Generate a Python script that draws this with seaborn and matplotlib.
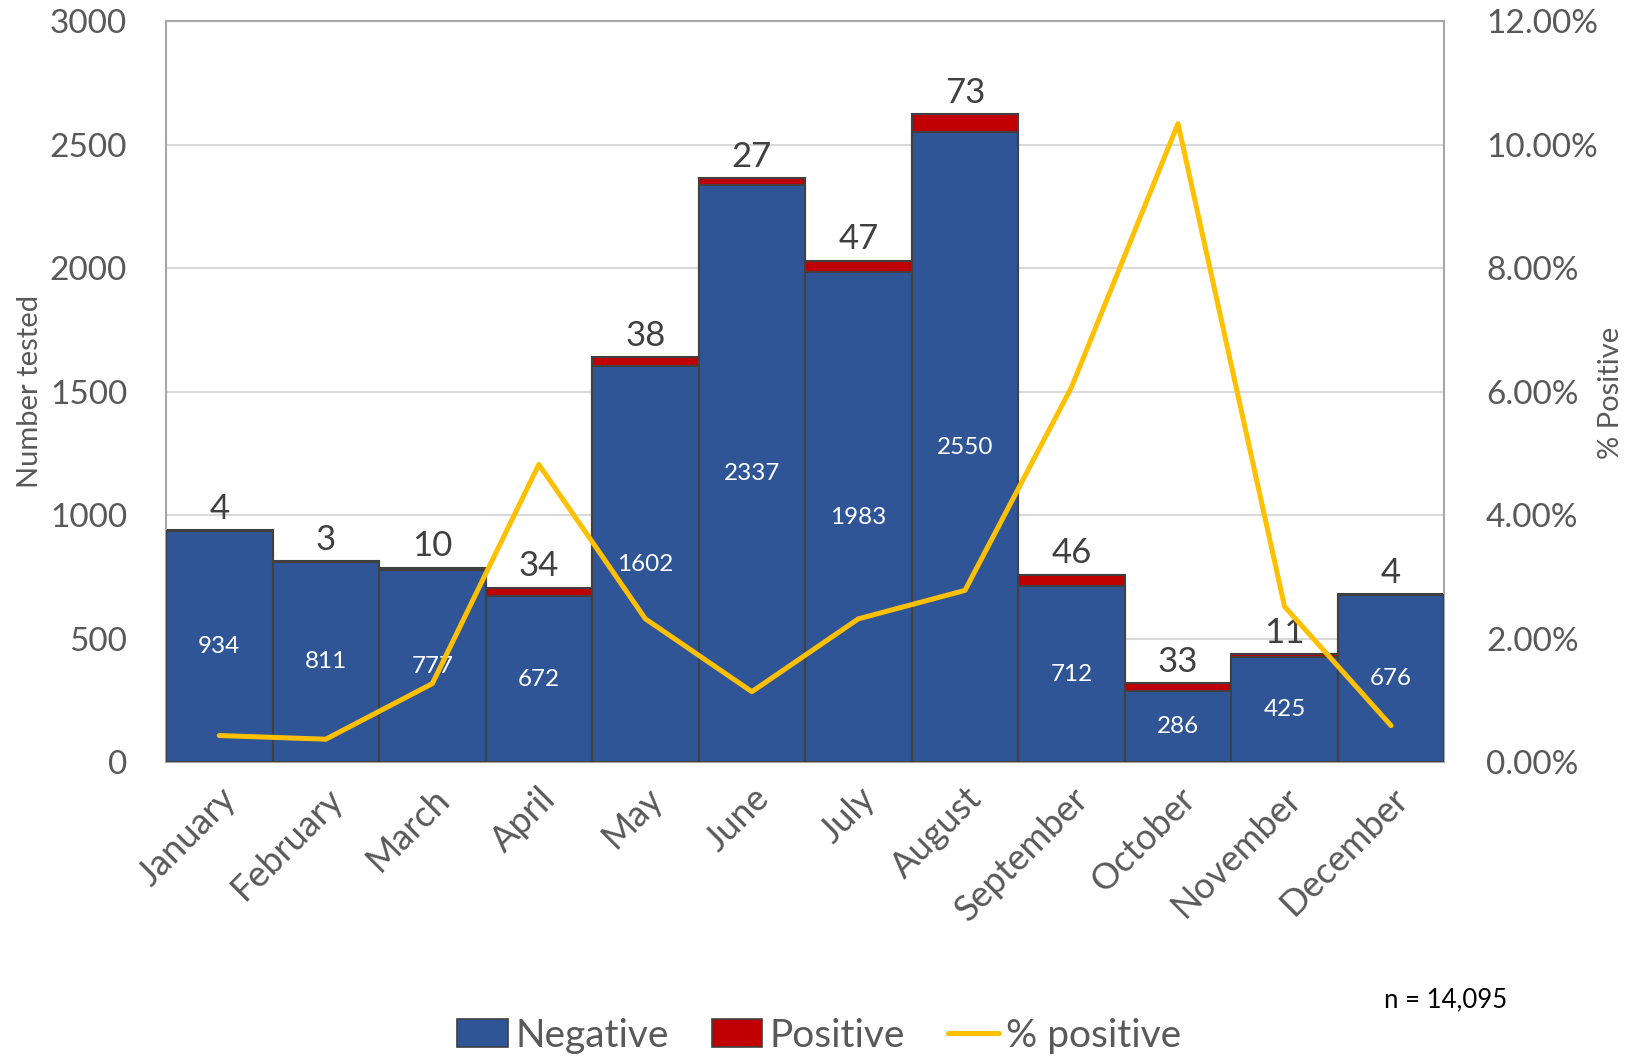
import matplotlib
matplotlib.use("Agg")
import matplotlib.pyplot as plt
import seaborn as sns
import pandas as pd
import numpy as np
from matplotlib.ticker import FuncFormatter
from matplotlib.patches import Patch
from matplotlib.lines import Line2D

months = ["January", "February", "March", "April", "May", "June", "July",
          "August", "September", "October", "November", "December"]
negative = [934, 811, 777, 672, 1602, 2337, 1983, 2550, 712, 286, 425, 676]
positive = [4, 3, 10, 34, 38, 27, 47, 73, 46, 33, 11, 4]
pct_positive = [0.43, 0.37, 1.27, 4.82, 2.32, 1.14, 2.32, 2.78, 6.07, 10.34, 2.52, 0.59]

BLUE = "#2F5597"
RED = "#C00000"
GOLD = "#FFC000"
TXT = "#595959"

sns.set_theme(style="white")
plt.rcParams["font.family"] = ["Lato", "DejaVu Sans"]

df = pd.DataFrame({"month": months, "negative": negative, "positive": positive,
                   "total": [n + p for n, p in zip(negative, positive)],
                   "pct": [v / 100 for v in pct_positive],
                   "pos_idx": list(range(len(months)))})

fig = plt.figure(figsize=(16.32, 10.59), dpi=100)
ax = fig.add_axes([0.1017, 0.2804, 0.7833, 0.6996])

sns.barplot(data=df, x="month", y="total", color=RED, width=1.0, saturation=1,
            edgecolor="#404040", linewidth=1.5, ax=ax, zorder=2)
sns.barplot(data=df, x="month", y="negative", color=BLUE, width=1.0, saturation=1,
            edgecolor="#404040", linewidth=1.5, ax=ax, zorder=3)

ax.set_ylim(0, 3000)
ax.set_xlim(-0.5, 11.5)
ax.set_yticks(range(0, 3001, 500))
ax.yaxis.grid(True, color="#D9D9D9", linewidth=1.5, zorder=0)
ax.set_axisbelow(True)
for s in ["left", "top", "right", "bottom"]:
    ax.spines[s].set_color("#A6A6A6")
    ax.spines[s].set_linewidth(1.5)
ax.tick_params(axis="y", labelsize=24, labelcolor=TXT, pad=28, length=0)
ax.tick_params(axis="x", labelsize=26, labelcolor=TXT, pad=14, length=0)
ax.set_xlabel("")
ax.set_ylabel("")
ax.set_xticks(range(len(months)))
ax.set_xticklabels(months, rotation=45, ha="right", rotation_mode="anchor")

for i in range(len(months)):
    ax.text(i, df["total"][i] + 22, str(positive[i]), ha="center", va="bottom",
            fontsize=25, color="#404040", zorder=5)
    ax.text(i, negative[i] / 2, str(negative[i]), ha="center", va="center",
            fontsize=17.5, color="white", zorder=5)

ax2 = ax.twinx()
sns.lineplot(data=df, x="pos_idx", y="pct", color=GOLD, linewidth=3.6, ax=ax2, zorder=4)
ax2.set_ylim(0, 0.12)
ax2.set_xlim(-0.5, 11.5)
ax2.set_yticks(np.arange(0, 0.1201, 0.02))
ax2.yaxis.set_major_formatter(FuncFormatter(lambda v, p: f"{v*100:.2f}%"))
ax2.tick_params(axis="y", labelsize=24, labelcolor=TXT, pad=30, length=0)
ax2.set_ylabel("")
for s in ax2.spines.values():
    s.set_visible(False)
ax2.grid(False)

fig.text(0.0185, 0.630, "Number tested", rotation=90, ha="center", va="center",
         fontsize=21, color=TXT)
fig.text(0.987, 0.629, "% Positive", rotation=90, ha="center", va="center",
         fontsize=21, color=TXT)

handles = [Patch(facecolor=BLUE, edgecolor="#404040", linewidth=1.2),
           Patch(facecolor=RED, edgecolor="#404040", linewidth=1.2),
           Line2D([0], [0], color=GOLD, linewidth=3.6)]
fig.legend(handles, ["Negative", "Positive", "% positive"], loc="center",
           bbox_to_anchor=(0.502, 0.022), ncol=3, frameon=False, fontsize=28,
           labelcolor=TXT, handlelength=1.3, handletextpad=0.2, columnspacing=1.1)

fig.text(0.886, 0.056, "n = 14,095", ha="center", va="center", fontsize=18.5, color="black")

fig.savefig("out.png", dpi=100)
